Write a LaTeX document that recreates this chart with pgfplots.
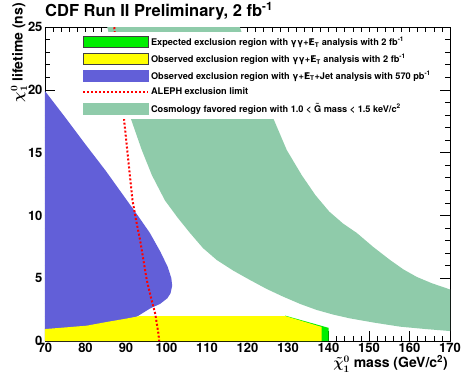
\documentclass[border=0pt]{standalone}
\usepackage{fontspec}
\setmainfont{TeX Gyre Heros}
\usepackage{pgfplots}
\pgfplotsset{compat=1.18}
\definecolor{JetBlue}{HTML}{625FD8}
\definecolor{CosmoGreen}{HTML}{8FCBAA}
\definecolor{ExpGreen}{HTML}{00EE00}
\definecolor{ObsYellow}{HTML}{FFFF00}
\newcommand{\MET}{\mbox{\rlap{\kern0.12em\textbf{/}}E}\textsubscript{T}}

\begin{document}
\begin{tikzpicture}
\begin{axis}[
  name=ax,
  at={(0pt,0pt)}, anchor=south west,
  scale only axis,
  width=405pt, height=314pt,
  xmin=70, xmax=170, ymin=0, ymax=25,
  xtick={70,80,...,170}, ytick={0,5,...,25},
  minor x tick num=4, minor y tick num=4,
  major tick length=10pt, minor tick length=5pt,
  tick align=inside,
  tick style={black, line width=0.6pt},
  axis line style={black, line width=0.8pt},
  /pgf/number format/assume math mode=true,
  every tick label/.append style={font=\bfseries\fontsize{13}{13}\selectfont},
  xticklabel style={yshift=1pt},
  yticklabel style={xshift=1pt},
  legend style={at={(0.081,0.984)}, anchor=north west, draw=none, fill=white,
    font=\bfseries\fontsize{9.2}{11}\selectfont, row sep=3pt,
    inner xsep=4pt, inner ysep=3pt,
    /tikz/every even column/.append style={column sep=12pt}},
  legend cell align=left,
]
\addlegendimage{legend image code/.code={\draw[fill=ExpGreen,draw=black!75,line width=0.8pt] (0pt,-5.5pt) rectangle (65pt,5.5pt);}}
\addlegendentry{Expected exclusion region with γγ+\MET{} analysis with 2 fb\textsuperscript{-1}}
\addlegendimage{legend image code/.code={\draw[fill=ObsYellow,draw=black!75,line width=0.8pt] (0pt,-5.5pt) rectangle (65pt,5.5pt);}}
\addlegendentry{Observed exclusion region with γγ+\MET{} analysis with 2 fb\textsuperscript{-1}}
\addlegendimage{legend image code/.code={\fill[JetBlue] (0pt,-5.5pt) rectangle (65pt,5.5pt);}}
\addlegendentry{Observed exclusion region with γ+\MET+Jet analysis with 570 pb\textsuperscript{-1}}
\addlegendimage{legend image code/.code={\draw[red,line width=2pt,dash pattern=on 2pt off 2pt] (0pt,0pt) -- (65pt,0pt);}}
\addlegendentry{ALEPH exclusion limit}
\addlegendimage{legend image code/.code={\fill[CosmoGreen] (0pt,-5.5pt) rectangle (65pt,5.5pt);}}
\addlegendentry{Cosmology favored region with 1.0 < {\boldmath$\tilde{\mathrm{G}}$} mass < 1.5 keV/c\textsuperscript{2}}

% gamma+MET+jet observed exclusion
\addplot[fill=JetBlue, draw=none, forget plot] coordinates {
 (70,19.9) (75,17.8) (80,15.65) (85,13.55) (90,11.3) (93,9.95) (95.9,8.6)
 (98.5,7.1) (100.3,5.9) (101.2,5.0) (101.4,4.4) (101,3.8) (100.2,3.4)
 (98.4,2.95) (96,2.6) (93.5,2.1) (92,1.8) (92,0) (70,0)} -- cycle;
% gamma gamma + MET expected
\addplot[fill=ExpGreen, draw=none, forget plot] coordinates {
 (129.3,2.02) (140,1.05) (140,0) (129.3,0)} -- cycle;
% gamma gamma + MET observed
\addplot[fill=ObsYellow, draw=none, forget plot] coordinates {
 (70,0) (70,0.95) (75,1.08) (80.3,1.22) (85,1.5) (90,1.78) (93.5,1.99)
 (129.3,1.99) (138.3,1.12) (138.3,0)} -- cycle;
% cosmology favoured band
\addplot[fill=CosmoGreen, draw=none, forget plot] coordinates {
 (85.0,25.5) (88.3,21) (91.2,17.7) (93.9,15.2) (96.4,13.2) (99.6,11.2)
 (102.8,9.8) (105.8,8.6) (109,7.4) (112.4,6.45) (116.5,5.6) (120.6,4.86)
 (124.7,4.15) (128.8,3.53) (133,2.95) (137.1,2.47) (141.2,2.1) (145.3,1.8)
 (151.5,1.45) (157.7,1.14) (164,0.95) (170.5,0.78)
 (170.5,4.05) (165.5,4.6) (161.8,5.1) (158.5,5.7) (155.2,6.45) (151,7.5)
 (147,8.6) (143.6,9.35) (140.2,10.3) (136.8,11.6) (133.4,13.2) (129.7,15.2)
 (126.4,17.7) (122.2,21) (117.6,25.5)} -- cycle;
% ALEPH limit
\addplot[red, line width=2pt, dash pattern=on 2pt off 2pt, forget plot] coordinates {
 (87.0,25.3) (88.2,21.5) (89.5,17.7) (90.5,14.6) (91.6,11.2) (92.5,9.6)
 (93.5,8.0) (95.1,4.9) (96.2,3.4) (97.2,2.2) (98.0,0.6) (98.2,0)};
\end{axis}
\node[anchor=base west, font=\bfseries\fontsize{16.5}{18}\selectfont, inner sep=0pt]
  at (0pt,324pt) {CDF Run II Preliminary, 2 fb\textsuperscript{-1}};
\node[anchor=east, rotate=90, font=\bfseries\fontsize{14}{16}\selectfont\boldmath, inner sep=0pt]
  at (-26pt,338pt) {$\chi^{0}_{1}$ lifetime (ns)};
\node[anchor=east, font=\bfseries\fontsize{14}{16}\selectfont\boldmath, inner sep=0pt]
  at (403pt,-23pt) {$\tilde{\chi}^{0}_{1}$ mass (GeV/c\textsuperscript{2})};
\pgfresetboundingbox
\useasboundingbox (-45pt,-40pt) rectangle (419pt,341pt);
\end{tikzpicture}
\end{document}
